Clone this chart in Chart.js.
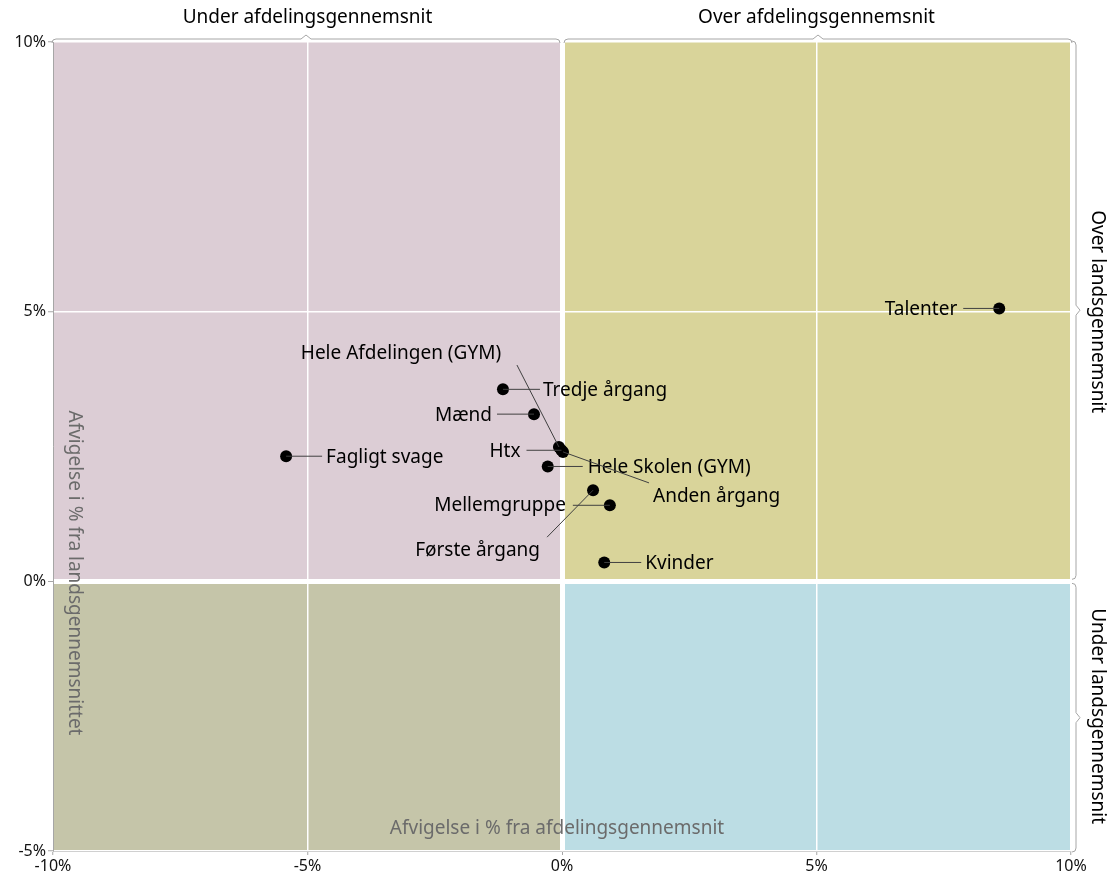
<!DOCTYPE html>
<html>
<head>
<meta charset="utf-8">
<script src="https://cdn.jsdelivr.net/npm/chart.js@4.4.1/dist/chart.umd.min.js"></script>
<style>
  html, body { margin: 0; padding: 0; background: #fff; }
  #wrap { width: 1112px; height: 879px; }
</style>
</head>
<body>
<div id="wrap"><canvas id="myChart" width="1112" height="879"></canvas></div>
<script>
// data (% deviation)
const groups = ['Talenter', 'Tredje årgang', 'Mænd', 'Fagligt svage', 'Hele Afdelingen (GYM)', 'Htx',
    'Hele Skolen (GYM)', 'Anden årgang', 'Mellemgruppe', 'Første årgang', 'Kvinder'];
const vsDept = [8.59, -1.16, -0.55, -5.42, -0.06, -0.01, -0.28, 0.02, 0.94, 0.61, 0.83];
const vsNation = [5.06, 3.56, 3.10, 2.32, 2.49, 2.43, 2.13, 2.40, 1.41, 1.69, 0.35];
const xTicks = [-10, -5, 0, 5, 10];
const yTicks = [-5, 0, 5, 10];

// where each label sits relative to its point (pixels): line end, text pos, align
const labelPlace = [
    { lx: -36, ly: 0, tx: -42, ty: 1, align: 'right' },
    { lx: 37, ly: 0, tx: 40, ty: 1, align: 'left' },
    { lx: -37, ly: 0, tx: -42, ty: 1, align: 'right' },
    { lx: 36, ly: 0, tx: 40, ty: 1, align: 'left' },
    { lx: -42, ly: -82, tx: -158, ty: -93, align: 'center' },
    { lx: -35, ly: 0, tx: -41, ty: 1, align: 'right' },
    { lx: 35, ly: 0, tx: 40, ty: 1, align: 'left' },
    { lx: 86, ly: 31, tx: 90, ty: 45, align: 'left' },
    { lx: -37, ly: 0, tx: -44, ty: 0, align: 'right' },
    { lx: -46, ly: 47, tx: -53, ty: 60, align: 'right' },
    { lx: 37, ly: 0, tx: 41, ty: 1, align: 'left' }
];

const FONT = "'Noto Sans', 'Open Sans', sans-serif";

//fondo de los cuadrantes
const quadrants = {
    id: 'quadrants',
    beforeDraw(chart) {
        const { ctx, chartArea: a, scales } = chart;
        const x0 = scales.x.getPixelForValue(0);
        const y0 = scales.y.getPixelForValue(0);
        ctx.save();
        ctx.fillStyle = '#dccdd5';
        ctx.fillRect(a.left, a.top, x0 - a.left, y0 - a.top);
        ctx.fillStyle = '#d9d49a';
        ctx.fillRect(x0, a.top, a.right - x0, y0 - a.top);
        ctx.fillStyle = '#c5c5a9';
        ctx.fillRect(a.left, y0, x0 - a.left, a.bottom - y0);
        ctx.fillStyle = '#bcdde4';
        ctx.fillRect(x0, y0, a.right - x0, a.bottom - y0);
        ctx.restore();
    },
    beforeDatasetsDraw(chart) {
        const { ctx } = chart;
        ctx.save();
        ctx.fillStyle = '#6b6b6b';
        ctx.font = '19px ' + FONT;
        ctx.textAlign = 'center';
        ctx.textBaseline = 'middle';
        ctx.fillText('Afvigelse i % fra afdelingsgennemsnit', 557, 829);
        ctx.translate(74, 573);
        ctx.rotate(Math.PI / 2);
        ctx.fillText('Afvigelse i % fra landsgennemsnittet', 0, 0);
        ctx.restore();
    }
};

//llaves y textos de los bordes
function braceH(ctx, x1, x2, y) {
    const mid = (x1 + x2) / 2;
    ctx.beginPath();
    ctx.moveTo(x1, y + 4);
    ctx.quadraticCurveTo(x1, y, x1 + 4, y);
    ctx.lineTo(mid - 5, y);
    ctx.lineTo(mid, y - 4);
    ctx.lineTo(mid + 5, y);
    ctx.lineTo(x2 - 4, y);
    ctx.quadraticCurveTo(x2, y, x2, y + 4);
    ctx.stroke();
}
function braceV(ctx, y1, y2, x) {
    const mid = (y1 + y2) / 2;
    ctx.beginPath();
    ctx.moveTo(x - 4, y1);
    ctx.quadraticCurveTo(x, y1, x, y1 + 4);
    ctx.lineTo(x, mid - 5);
    ctx.lineTo(x + 4, mid);
    ctx.lineTo(x, mid + 5);
    ctx.lineTo(x, y2 - 4);
    ctx.quadraticCurveTo(x, y2, x - 4, y2);
    ctx.stroke();
}

const edges = {
    id: 'edges',
    afterDraw(chart) {
        const { ctx, chartArea: a, scales } = chart;
        const x0 = scales.x.getPixelForValue(0);
        const y0 = scales.y.getPixelForValue(0);
        ctx.save();
        ctx.strokeStyle = '#a6a6a6';
        ctx.lineWidth = 1;
        braceH(ctx, a.left - 1, x0 - 2, a.top - 3);
        braceH(ctx, x0 + 2, a.right + 1, a.top - 3);
        braceV(ctx, a.top - 1, y0 - 2, a.right + 5);
        braceV(ctx, y0 + 2, a.bottom + 1, a.right + 5);

        ctx.fillStyle = '#000';
        ctx.font = '19px ' + FONT;
        ctx.textAlign = 'center';
        ctx.textBaseline = 'middle';
        ctx.fillText('Under afdelingsgennemsnit', (a.left + x0) / 2, 18);
        ctx.fillText('Over afdelingsgennemsnit', (x0 + a.right) / 2, 18);
        ctx.save();
        ctx.translate(1097, (a.top + y0) / 2);
        ctx.rotate(Math.PI / 2);
        ctx.fillText('Over landsgennemsnit', 0, 0);
        ctx.restore();
        ctx.translate(1097, (y0 + a.bottom) / 2);
        ctx.rotate(Math.PI / 2);
        ctx.fillText('Under landsgennemsnit', 0, 0);
        ctx.restore();
    }
};

//etiquetas con linea guia
const leaders = {
    id: 'leaders',
    afterDatasetsDraw(chart) {
        const { ctx } = chart;
        const meta = chart.getDatasetMeta(0);
        ctx.save();
        ctx.font = '19px ' + FONT;
        ctx.textBaseline = 'middle';
        meta.data.forEach((pt, i) => {
            const p = labelPlace[i];
            ctx.strokeStyle = '#404040';
            ctx.lineWidth = 1;
            ctx.beginPath();
            ctx.moveTo(pt.x, pt.y);
            ctx.lineTo(pt.x + p.lx, pt.y + p.ly);
            ctx.stroke();
            ctx.fillStyle = '#000';
            ctx.textAlign = p.align;
            ctx.fillText(groups[i], pt.x + p.tx, pt.y + p.ty);
        });
        ctx.restore();
    }
};

const pts = vsDept.map((v, i) => ({ x: v, y: vsNation[i] }));

const cv = document.querySelector('#myChart').getContext('2d');
const myChart = new Chart(cv, {
    type: 'scatter',
    data: {
        datasets: [{
            data: pts,
            backgroundColor: '#000',
            borderColor: '#000',
            borderWidth: 0,
            pointRadius: 6,
            pointHoverRadius: 6
        }]
    },
    options: {
        responsive: false,
        animation: false,
        layout: { padding: { top: 42, right: 41, left: 0, bottom: 0 } },
        plugins: { legend: { display: false }, tooltip: { enabled: false } },
        scales: {
            x: {
                type: 'linear',
                min: -10, max: 10,
                afterBuildTicks: s => { s.ticks = xTicks.map(v => ({ value: v })); },
                afterFit: s => { s.height = 28; },
                grid: {
                    color: '#ffffff',
                    lineWidth: c => c.tick && c.tick.value === 0 ? 5 : 1.5,
                    tickColor: '#a6a6a6',
                    tickWidth: 1,
                    tickLength: 4
                },
                border: { display: true, color: '#d0d0d0' },
                ticks: {
                    color: '#111',
                    font: { family: FONT, size: 16 },
                    padding: 2,
                    callback: v => v + '%'
                }
            },
            y: {
                type: 'linear',
                min: -5, max: 10,
                afterBuildTicks: s => { s.ticks = yTicks.map(v => ({ value: v })); },
                afterFit: s => { s.width = 53; },
                grid: {
                    color: '#ffffff',
                    lineWidth: c => c.tick && c.tick.value === 0 ? 5 : 1.5,
                    tickColor: '#a6a6a6',
                    tickWidth: 1,
                    tickLength: 5
                },
                border: { display: true, color: '#a6a6a6' },
                ticks: {
                    color: '#111',
                    font: { family: FONT, size: 16 },
                    padding: 2,
                    callback: v => v + '%'
                }
            }
        }
    },
    plugins: [quadrants, leaders, edges]
});
</script>
</body>
</html>
